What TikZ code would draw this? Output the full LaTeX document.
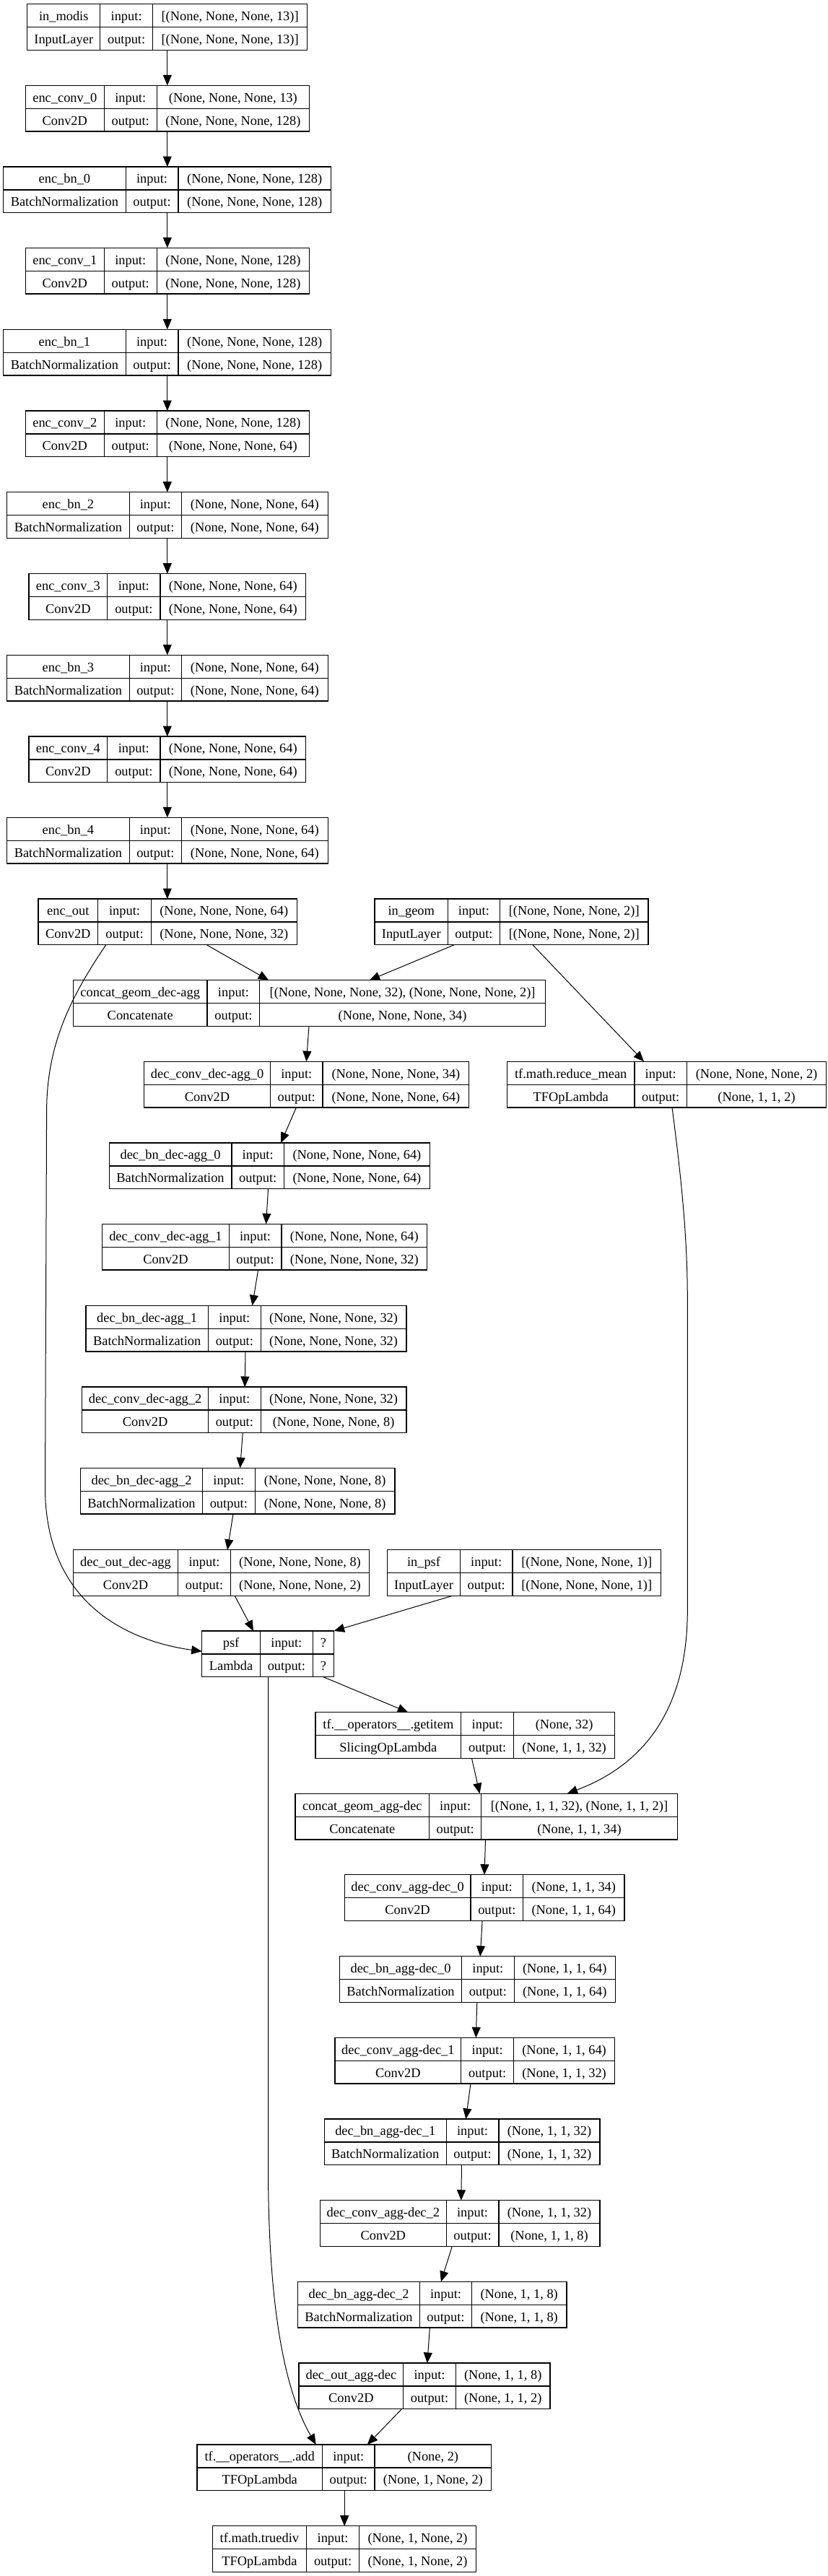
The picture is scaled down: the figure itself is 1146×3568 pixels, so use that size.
\documentclass[tikz,border=0pt]{standalone}
\usepackage{fontspec}
\setmainfont{Liberation Serif}
\usetikzlibrary{arrows.meta,calc}
\tikzset{
  lbox/.style={draw=black, line width=1.3pt, minimum height=63.7pt, inner sep=0pt, outer sep=0pt},
  cell/.style={draw=black, line width=1.3pt},
  txt/.style={anchor=base, inner sep=0pt, font=\fontsize{18.4}{20}\selectfont},
  edge/.style={draw=black, line width=1pt, -{Triangle[length=14.5pt,width=12pt]}}
}
\newcommand\kl[6]{%
  \pgfmathsetmacro\kw{#3-#2}%
  \pgfmathsetmacro\kyb{#4+63.7}%
  \pgfmathsetmacro\kym{#4+31.85}%
  \xdef\kxa{#2}\xdef\kxb{#3}\xdef\kyt{#4}\xdef\kda{#5}\xdef\kdb{#6}\xdef\kname{#1}%
  \node[lbox, minimum width=\kw pt, anchor=north west] (#1) at (#2,#4) {};
  \draw[cell] (#2,\kym) -- (#3,\kym) (#5,#4) -- (#5,\kyb) (#6,#4) -- (#6,\kyb);
}
\newcommand\kt[4]{%
  \pgfmathsetmacro\kca{(\kxa+\kda)/2}%
  \pgfmathsetmacro\kcb{(\kda+\kdb)/2}%
  \pgfmathsetmacro\kcc{(\kdb+\kxb)/2}%
  \pgfmathsetmacro\kra{\kyt+22.9}%
  \pgfmathsetmacro\krb{\kyt+54.8}%
  \node[txt] (\kname-t) at (\kca,\kra) {#1};
  \node[txt] (\kname-c) at (\kca,\krb) {#2};
  \node[txt] (\kname-il) at (\kcb,\kra) {input:};
  \node[txt] (\kname-ol) at (\kcb,\krb) {output:};
  \node[txt] (\kname-i) at (\kcc,\kra) {#3};
  \node[txt] (\kname-o) at (\kcc,\krb) {#4};
}
\begin{document}
\begin{tikzpicture}[x=1pt,y=-1pt]
\fill[white] (0,0) rectangle (1146,3568);
\useasboundingbox (0,0) rectangle (1146,3568);

% encoder
\kl{inmodis}{37.7}{425.8}{5.7}{138.8}{211.5}
\kt{in\_modis}{InputLayer}{[(None, None, None, 13)]}{[(None, None, None, 13)]}
\kl{ec0}{35.4}{428.5}{118.3}{144.2}{217.3}
\kt{enc\_conv\_0}{Conv2D}{(None, None, None, 13)}{(None, None, None, 128)}
\kl{bn0}{4.6}{458.5}{231}{174.2}{246.9}
\kt{enc\_bn\_0}{BatchNormalization}{(None, None, None, 128)}{(None, None, None, 128)}
\kl{ec1}{35.4}{428.5}{343.3}{144.2}{217.3}
\kt{enc\_conv\_1}{Conv2D}{(None, None, None, 128)}{(None, None, None, 128)}
\kl{bn1}{4.6}{458.5}{456.3}{174.2}{246.9}
\kt{enc\_bn\_1}{BatchNormalization}{(None, None, None, 128)}{(None, None, None, 128)}
\kl{ec2}{35.4}{428.5}{569}{144.2}{217.3}
\kt{enc\_conv\_2}{Conv2D}{(None, None, None, 128)}{(None, None, None, 64)}
\kl{bn2}{9.6}{454.2}{681.7}{179.2}{251.5}
\kt{enc\_bn\_2}{BatchNormalization}{(None, None, None, 64)}{(None, None, None, 64)}
\kl{ec3}{40}{423.8}{794.7}{148.8}{221.9}
\kt{enc\_conv\_3}{Conv2D}{(None, None, None, 64)}{(None, None, None, 64)}
\kl{bn3}{9.6}{454.2}{907.3}{179.2}{251.5}
\kt{enc\_bn\_3}{BatchNormalization}{(None, None, None, 64)}{(None, None, None, 64)}
\kl{ec4}{40}{423.8}{1020}{148.8}{221.9}
\kt{enc\_conv\_4}{Conv2D}{(None, None, None, 64)}{(None, None, None, 64)}
\kl{bn4}{9.6}{454.2}{1132.3}{179.2}{251.5}
\kt{enc\_bn\_4}{BatchNormalization}{(None, None, None, 64)}{(None, None, None, 64)}
\kl{encout}{52.9}{411.2}{1245}{135.8}{209.3}
\kt{enc\_out}{Conv2D}{(None, None, None, 64)}{(None, None, None, 32)}
\kl{ingeom}{519.1}{898}{1245}{620.4}{692.4}
\kt{in\_geom}{InputLayer}{[(None, None, None, 2)]}{[(None, None, None, 2)]}
\kl{cat1}{101.3}{755.5}{1357.7}{287.1}{359.8}
\kt{concat\_geom\_dec-agg}{Concatenate}{[(None, None, None, 32), (None, None, None, 2)]}{(None, None, None, 34)}
\kl{dc0}{199.7}{649.8}{1470.3}{374.4}{447.1}
\kt{dec\_conv\_dec-agg\_0}{Conv2D}{(None, None, None, 34)}{(None, None, None, 64)}
\kl{rmean}{702.6}{1144.6}{1470.3}{878.9}{951.5}
\kt{tf.math.reduce\_mean}{TFOpLambda}{(None, None, None, 2)}{(None, 1, 1, 2)}
\kl{db0}{151.2}{595.4}{1583}{320.9}{393.5}
\kt{dec\_bn\_dec-agg\_0}{BatchNormalization}{(None, None, None, 64)}{(None, None, None, 64)}
\kl{dc1}{141.7}{591.8}{1695.3}{317.2}{389.9}
\kt{dec\_conv\_dec-agg\_1}{Conv2D}{(None, None, None, 64)}{(None, None, None, 32)}
\kl{db1}{118.9}{563.1}{1808.3}{288.5}{361.2}
\kt{dec\_bn\_dec-agg\_1}{BatchNormalization}{(None, None, None, 32)}{(None, None, None, 32)}
\kl{dc2}{113.8}{563.1}{1921}{288.5}{361.2}
\kt{dec\_conv\_dec-agg\_2}{Conv2D}{(None, None, None, 32)}{(None, None, None, 8)}
\kl{db2}{111.6}{547}{2033.3}{280.5}{353.2}
\kt{dec\_bn\_dec-agg\_2}{BatchNormalization}{(None, None, None, 8)}{(None, None, None, 8)}
\kl{dout}{101.3}{511.7}{2146.7}{246.7}{319.4}
\kt{dec\_out\_dec-agg}{Conv2D}{(None, None, None, 8)}{(None, None, None, 2)}
\kl{inpsf}{536.7}{915.6}{2146.7}{637.3}{710}
\kt{in\_psf}{InputLayer}{[(None, None, None, 1)]}{[(None, None, None, 1)]}
\kl{psf}{279.7}{462.6}{2259}{360.5}{433.2}
\kt{psf}{Lambda}{?}{?}
\kl{getitem}{436.9}{851.7}{2371.7}{638.8}{711.5}
\kt{tf.\_\_operators\_\_.getitem}{SlicingOpLambda}{(None, 32)}{(None, 1, 1, 32)}
\kl{cat2}{409}{938.3}{2484.3}{594.7}{666.7}
\kt{concat\_geom\_agg-dec}{Concatenate}{[(None, 1, 1, 32), (None, 1, 1, 2)]}{(None, 1, 1, 34)}
\kl{ac0}{477.2}{864.9}{2596.7}{652}{724.7}
\kt{dec\_conv\_agg-dec\_0}{Conv2D}{(None, 1, 1, 34)}{(None, 1, 1, 64)}
\kl{ab0}{470.6}{852.4}{2709.7}{639.5}{712.2}
\kt{dec\_bn\_agg-dec\_0}{BatchNormalization}{(None, 1, 1, 64)}{(None, 1, 1, 64)}
\kl{ac1}{464}{851.7}{2822.3}{638.8}{711.5}
\kt{dec\_conv\_agg-dec\_1}{Conv2D}{(None, 1, 1, 64)}{(None, 1, 1, 32)}
\kl{ab1}{449.3}{831.1}{2935}{618.2}{690.9}
\kt{dec\_bn\_agg-dec\_1}{BatchNormalization}{(None, 1, 1, 32)}{(None, 1, 1, 32)}
\kl{ac2}{443.5}{831.1}{3047.7}{618.2}{690.9}
\kt{dec\_conv\_agg-dec\_2}{Conv2D}{(None, 1, 1, 32)}{(None, 1, 1, 8)}
\kl{ab2}{412.6}{784.9}{3160.3}{581.5}{653.5}
\kt{dec\_bn\_agg-dec\_2}{BatchNormalization}{(None, 1, 1, 8)}{(None, 1, 1, 8)}
\kl{aout}{414.1}{762.1}{3273}{558.7}{631.4}
\kt{dec\_out\_agg-dec}{Conv2D}{(None, 1, 1, 8)}{(None, 1, 1, 2)}
\kl{add}{273.1}{680.6}{3386}{446.4}{519.1}
\kt{tf.\_\_operators\_\_.add}{TFOpLambda}{(None, 2)}{(None, 1, None, 2)}
\kl{tdiv}{294.4}{659.3}{3498.7}{424.4}{497.8}
\kt{tf.math.truediv}{TFOpLambda}{(None, 1, None, 2)}{(None, 1, None, 2)}

% encoder chain
\foreach \a/\b in {inmodis/ec0, ec0/bn0, bn0/ec1, ec1/bn1, bn1/ec2, ec2/bn2, bn2/ec3, ec3/bn3, bn3/ec4, ec4/bn4, bn4/encout}
  \draw[edge] (231.8,0 |- \a.south) -- (231.8,0 |- \b.north);

% straight edges
\foreach \a/\xa/\b/\xb in {encout/286.3/cat1/372.2, ingeom/629.2/cat1/511.7, ingeom/737.9/rmean/892,
  cat1/428/dc0/424.4, dc0/410.4/db0/389.1, db0/371.5/dc1/368.6, dc1/357.6/db1/349.5,
  db1/340/dc2/339.2, dc2/336.3/db2/332.6, db2/323/dout/315, dout/325.3/psf/351,
  psf/447.9/getitem/565.3, getitem/653.5/cat2/664.5, cat2/672.5/ac0/671,
  ac0/668.1/ab0/665.2, ab0/660.8/ac1/659.3, ac1/652/ab1/645.4, ab1/639.5/ac2/638.8,
  ac2/626.3/ab2/610.9, ab2/595.4/aout/591.8, aout/556.5/add/508.8, add/477.2/tdiv/477.2}
  \draw[edge] (\xa,0 |- \a.south) -- (\xb,0 |- \b.north);

\draw[edge] (626.3,0 |- inpsf.south) -- (psf.north east);

% curved edges
\draw[edge] (146.8,0 |- encout.south) .. controls (95,1385) and (64.6,1450) .. (64.6,1540)
  -- (62.5,2060) .. controls (62.5,2230) and (190,2275) .. ([yshift=3.6pt]psf.west);
\draw[edge] (371.5,0 |- psf.south) -- (371.5,3000) .. controls (371.5,3230) and (403,3326) .. (437.6,0 |- add.north);
\draw[edge] (931,0 |- rmean.south) .. controls (945,1640) and (952.3,1720) .. (952.3,1800)
  -- (952.3,2230) .. controls (952.3,2370) and (890,2445) .. (785.6,0 |- cat2.north);
\end{tikzpicture}
\end{document}
